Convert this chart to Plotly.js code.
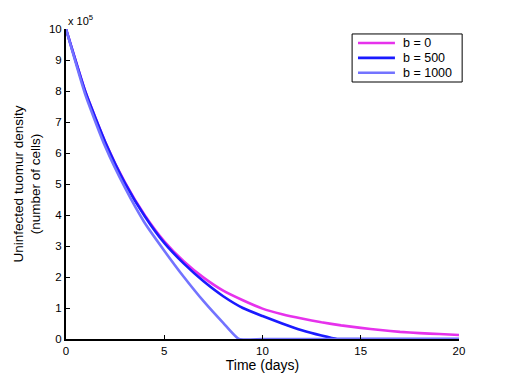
<!DOCTYPE html>
<html>
<head>
<meta charset="utf-8">
<script src="https://cdn.plot.ly/plotly-3.0.1.min.js"></script>
<style>
  html, body { margin: 0; padding: 0; background: #fff; }
  #graph { width: 507px; height: 381px; }
</style>
</head>
<body>
<div id="graph"></div>
<script>
// values in units of 10^5 cells
let timeB0 = [0, 1, 2, 3, 4, 5, 6, 7, 8, 9, 10, 11, 12, 13, 14, 15, 16, 17, 18, 19, 20];
let densityB0 = [10, 7.95, 6.35, 5.05, 4.0, 3.15, 2.5, 1.98, 1.56, 1.25, 0.98, 0.8, 0.66, 0.54, 0.44, 0.36, 0.29, 0.23, 0.19, 0.16, 0.13];

let timeB500 = [0, 1, 2, 3, 4, 5, 6, 7, 8, 9, 10, 11, 12, 13, 13.8, 15, 16, 17, 18, 19, 20];
let densityB500 = [10, 7.95, 6.35, 5.03, 3.97, 3.1, 2.43, 1.86, 1.38, 1.0, 0.74, 0.5, 0.28, 0.11, 0, 0, 0, 0, 0, 0, 0];

let timeB1000 = [0, 1, 2, 3, 4, 5, 6, 7, 8, 8.8, 10, 12, 14, 16, 18, 20];
let densityB1000 = [10, 7.85, 6.2, 4.88, 3.75, 2.85, 2.0, 1.22, 0.52, 0, 0, 0, 0, 0, 0, 0];

let seriesNames = ['b = 0', 'b = 500', 'b = 1000'];
let seriesColors = ['#e632ec', '#1a1aff', '#7373ff'];
let yTicks = [0, 1, 2, 3, 4, 5, 6, 7, 8, 9, 10];
let xTicks = [0, 5, 10, 15, 20];

const font = 'Liberation Sans, Arial, sans-serif';

function curve(x, y, name, color) {
    return {
        x: x,
        y: y,
        name: name,
        mode: 'lines',
        type: 'scatter',
        line: { color: color, width: 2.6, shape: 'spline', smoothing: 0.5 },
        showlegend: false
    };
}

const traces = [
    curve(timeB0, densityB0, seriesNames[0], seriesColors[0]),
    curve(timeB500, densityB500, seriesNames[1], seriesColors[1]),
    curve(timeB1000, densityB1000, seriesNames[2], seriesColors[2])
];

// legend box drawn by hand (matlab style: tight rows, long line samples)
const shapes = [{
    type: 'rect', xref: 'paper', yref: 'paper',
    x0: 0.728, x1: 1.008, y0: 0.829, y1: 0.984,
    line: { color: '#000', width: 1 }, fillcolor: '#fff', layer: 'above'
}];
const annotations = [{
    text: 'x 10<sup>5</sup>',
    xref: 'paper', yref: 'paper',
    x: 0, y: 1, xanchor: 'left', yanchor: 'bottom',
    showarrow: false,
    font: { family: font, size: 11 }
}];
const rowY = [0.955, 0.907, 0.859];
seriesNames.forEach((name, i) => {
    shapes.push({
        type: 'line', xref: 'paper', yref: 'paper',
        x0: 0.743, x1: 0.837, y0: rowY[i], y1: rowY[i],
        line: { color: seriesColors[i], width: 2.6 }, layer: 'above'
    });
    annotations.push({
        text: name, xref: 'paper', yref: 'paper',
        x: 0.853, y: rowY[i], xanchor: 'left', yanchor: 'middle',
        showarrow: false, font: { family: font, size: 12.5 }
    });
});

const layout = {
    width: 507,
    height: 381,
    margin: { l: 66, r: 48, t: 29, b: 42 },
    paper_bgcolor: '#fff',
    plot_bgcolor: '#fff',
    font: { family: font, size: 11, color: '#000' },
    showlegend: false,
    xaxis: {
        range: [0, 20],
        tickvals: xTicks,
        ticks: 'inside',
        ticklen: 4,
        tickwidth: 1,
        tickcolor: '#000',
        showline: true,
        linecolor: '#000',
        linewidth: 2,
        showgrid: false,
        zeroline: false,
        tickfont: { family: font, size: 11.5 },
        title: { text: 'Time (days)', font: { family: font, size: 14 }, standoff: 2 }
    },
    yaxis: {
        range: [0, 10],
        tickvals: yTicks,
        ticks: 'inside',
        ticklen: 4,
        tickwidth: 1,
        tickcolor: '#000',
        showline: true,
        linecolor: '#000',
        linewidth: 2,
        showgrid: false,
        zeroline: false,
        tickfont: { family: font, size: 11.5 },
        title: {
            text: 'Uninfected tuomur density<br>(number of cells)',
            font: { family: font, size: 13.5 },
            standoff: 5
        }
    },
    shapes: shapes,
    annotations: annotations
};

Plotly.newPlot('graph', traces, layout, { staticPlot: true });
</script>
</body>
</html>
